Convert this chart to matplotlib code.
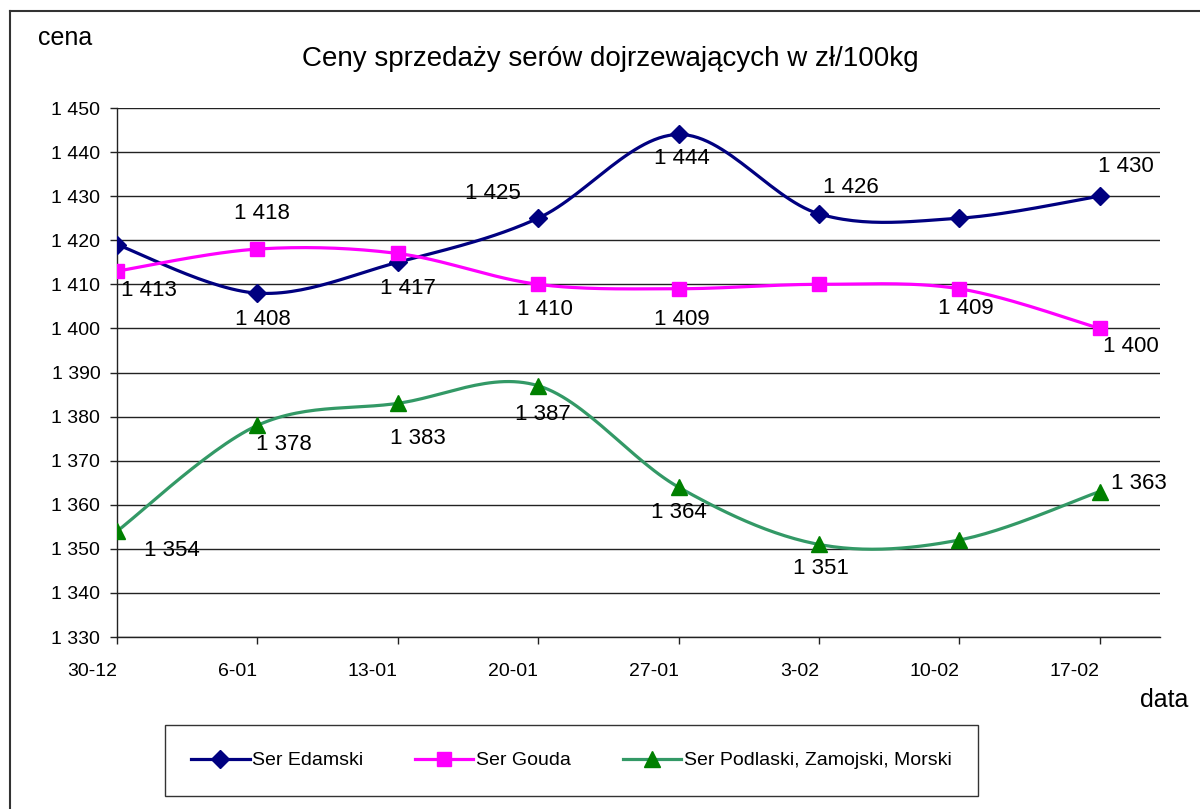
import numpy as np
import matplotlib
matplotlib.use("Agg")
import matplotlib.pyplot as plt
from matplotlib.lines import Line2D
from matplotlib.transforms import ScaledTranslation

plt.rcParams['font.family'] = ['Liberation Sans', 'DejaVu Sans']

# data
dates = ['30-12', '6-01', '13-01', '20-01', '27-01', '3-02', '10-02', '17-02']
edamski = [1419, 1408, 1415, 1425, 1444, 1426, 1425, 1430]
gouda = [1413, 1418, 1417, 1410, 1409, 1410, 1409, 1400]
podlaski = [1354, 1378, 1383, 1387, 1364, 1351, 1352, 1363]

# which points carry a value label
edamski_lab = [False, True, False, True, True, True, False, True]
gouda_lab = [True, True, True, True, True, False, True, True]
podlaski_lab = [True, True, True, True, True, True, False, True]

# label offsets in pixels (text centre relative to the point)
edamski_off = [None, (5, -26), None, (-45, 25), (3, -24), (32, 26), None, (26, 30)]
gouda_off = [(32, -19), (5, 36), (10, -35), (7, -25), (3, -31), None, (7, -20), (31, -18)]
podlaski_off = [(55, -19), (26, -19), (20, -35), (5, -29), (0, -25), (2, -24), None, (39, 8)]


def smooth(x, y, n=30):
    # Excel-like smoothed line (Catmull-Rom through the points)
    p = np.column_stack([x, y]).astype(float)
    p = np.vstack([p[0], p, p[-1]])
    xs, ys = [], []
    t = np.linspace(0, 1, n)[:, None]
    for i in range(1, len(p) - 2):
        p0, p1, p2, p3 = p[i - 1], p[i], p[i + 1], p[i + 2]
        c1 = p1 + (p2 - p0) / 6
        c2 = p2 - (p3 - p1) / 6
        b = ((1 - t) ** 3) * p1 + 3 * ((1 - t) ** 2) * t * c1 + 3 * (1 - t) * t ** 2 * c2 + t ** 3 * p2
        xs.extend(b[:, 0])
        ys.extend(b[:, 1])
    return np.array(xs), np.array(ys)


def fmt(v):
    return f"{v:,}".replace(",", " ")


fig = plt.figure(figsize=(12, 8.09), dpi=100)
ax = fig.add_axes([117 / 1200, 1 - 637 / 809, (1160 - 117) / 1200, (637 - 108) / 809])

x = np.arange(len(dates))
series = [
    (edamski, edamski_lab, edamski_off, '#000080', '#000080', 'D', 9, 'Ser Edamski'),
    (gouda, gouda_lab, gouda_off, '#FF00FF', '#FF00FF', 's', 10, 'Ser Gouda'),
    (podlaski, podlaski_lab, podlaski_off, '#339966', '#008000', '^', 11, 'Ser Podlaski, Zamojski, Morski'),
]

handles = []
for vals, lab, off, lc, mc, mk, ms, name in series:
    sx, sy = smooth(x, vals)
    ax.plot(sx, sy, color=lc, lw=2.3, zorder=3, solid_capstyle='round')
    ax.plot(x, vals, ls='none', marker=mk, ms=ms, color=mc, zorder=4)
    handles.append(Line2D([], [], color=lc, lw=2.3, marker=mk, ms=ms,
                          markerfacecolor=mc, markeredgecolor=mc, label=name))
    for xi, v, show, o in zip(x, vals, lab, off):
        if show:
            ax.annotate(fmt(v), (xi, v), xytext=o, textcoords='offset pixels',
                        ha='center', va='center', fontsize=16, zorder=5)

ax.set_xlim(0, 7.43)
ax.set_ylim(1330, 1450)
ax.set_yticks(np.arange(1330, 1451, 10))
ax.set_yticklabels([fmt(v) for v in range(1330, 1451, 10)])
ax.set_xticks(x)
ax.set_xticklabels(dates, ha='right')
shift = ScaledTranslation(-5 / 100, 0, fig.dpi_scale_trans)
for t in ax.get_xticklabels():
    t.set_transform(t.get_transform() + shift)

ax.grid(axis='y', color='#222222', lw=1.0)
ax.set_axisbelow(True)
for s in ['top', 'right']:
    ax.spines[s].set_visible(False)
for s in ['left', 'bottom']:
    ax.spines[s].set_color('#222222')
    ax.spines[s].set_linewidth(1.0)
ax.tick_params(axis='y', length=5, width=1, pad=7, labelsize=14, colors='#222222', labelcolor='black')
ax.tick_params(axis='x', length=5, width=1, pad=14, labelsize=14, colors='#222222', labelcolor='black')

fig.text(610 / 1200, 1 - 59 / 809, 'Ceny sprzedaży serów dojrzewających w zł/100kg',
         ha='center', va='center', fontsize=20)
fig.text(38 / 1200, 1 - 38 / 809, 'cena', ha='left', va='center', fontsize=18)
fig.text(1140 / 1200, 1 - 700 / 809, 'data', ha='left', va='center', fontsize=18)

leg = fig.legend(handles=handles, loc='center', ncol=3, mode='expand',
                 bbox_to_anchor=(165 / 1200, 1 - 797 / 809, 813 / 1200, 73 / 809),
                 fontsize=14, frameon=True, fancybox=False, edgecolor='black',
                 borderpad=1.35, handlelength=3.0, handletextpad=0.15, borderaxespad=0)
leg.get_frame().set_linewidth(1.0)

# figure frame (left and top edges visible in the source)
fig.add_artist(Line2D([10 / 1200, 10 / 1200], [0, 1 - 11 / 809], color='#333333', lw=1.5))
fig.add_artist(Line2D([10 / 1200, 1], [1 - 11 / 809, 1 - 11 / 809], color='#333333', lw=1.5))

fig.savefig('out.png', dpi=100)
